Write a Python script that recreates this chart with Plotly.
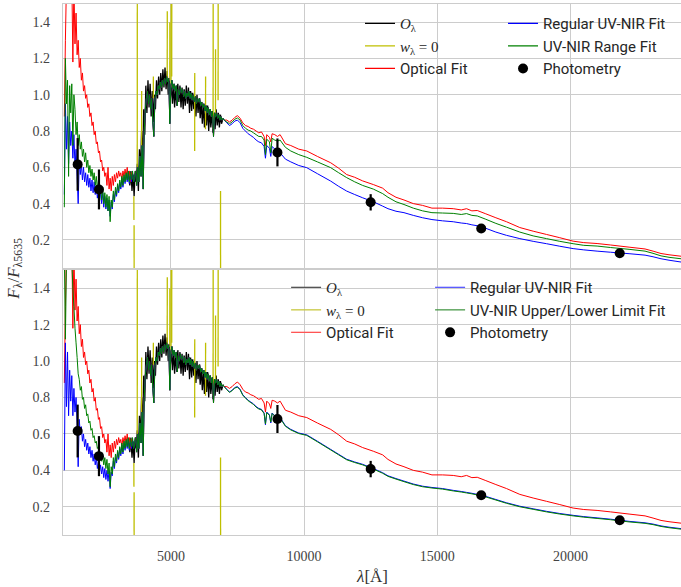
import plotly.graph_objects as go
from plotly.subplots import make_subplots

# ---------------- data ----------------
uv_wave = list(range(1000, 3601, 40))          # 66 points
opt_wave = list(range(3640, 7001, 40))         # 85 points
tail_wave = [7100, 7200, 7300, 7400, 7500, 7600, 7700, 7800, 7900, 8000, 8100,
             8200, 8300, 8400, 8500, 8550, 8600, 8700, 8750, 8800, 8900, 9000]
nir_wave = [9100, 9300, 9500, 9800, 10100, 10500, 11000, 11300, 11600, 11900,
            12200, 12600, 12950, 13150, 13450, 13750, 14100, 14450, 14800, 15200,
            15600, 15900, 16100, 16300, 16500, 16800, 17200, 17600, 18100, 18600,
            19100, 19600, 20100, 20500, 21000, 21500, 22200, 22800, 23100, 23400,
            23700, 24150]

# Optical Fit (red) -- same in both panels
red_uv = [0.88, 1.30, 1.62, 1.55, 1.70, 1.58, 1.52, 1.66, 1.18, 1.60,
          1.28, 1.45, 1.22, 1.30, 1.15, 1.20, 1.08, 1.12, 1.02, 1.05,
          0.98, 1.00, 0.93, 0.95, 0.88, 0.90, 0.83, 0.85, 0.78, 0.80,
          0.73, 0.74, 0.68, 0.69, 0.63, 0.64, 0.58, 0.60, 0.55, 0.57,
          0.50, 0.60, 0.48, 0.54, 0.47, 0.55, 0.50, 0.56, 0.52, 0.57,
          0.54, 0.58, 0.55, 0.57, 0.53, 0.58, 0.55, 0.59, 0.55, 0.60,
          0.54, 0.58, 0.52, 0.57, 0.55, 0.53]
# optical part shared by all fits
fit_opt = [0.55, 0.58, 0.50, 0.60, 0.52, 0.66, 0.55, 0.72, 0.48, 0.80,
           0.92, 0.98, 1.02, 0.95, 1.00, 0.92, 0.98, 0.85, 0.77, 0.97,
           1.02, 1.00, 1.05, 1.03, 1.07, 1.04, 1.08, 1.05, 1.09, 1.06,
           1.10, 1.07, 1.09, 0.84, 1.05, 1.08, 1.03, 1.06, 1.02, 1.05,
           0.94, 1.03, 1.00, 1.04, 1.01, 1.03, 0.99, 1.02, 0.98, 1.01,
           0.99, 1.02, 0.98, 1.01, 0.97, 1.00, 0.96, 0.99, 0.95, 0.98,
           0.96, 0.98, 0.94, 0.96, 0.93, 0.95, 0.91, 0.94, 0.90, 0.93,
           0.89, 0.92, 0.88, 0.91, 0.77, 0.90, 0.88, 0.90, 0.87, 0.89,
           0.86, 0.88, 0.86, 0.87, 0.86]
red_tail = [0.86, 0.85, 0.86, 0.875, 0.885, 0.87, 0.845, 0.83, 0.825, 0.815, 0.81,
            0.80, 0.79, 0.795, 0.77, 0.72, 0.78, 0.765, 0.74, 0.785, 0.78, 0.77]
red_nir = [0.78, 0.73, 0.72, 0.70, 0.69, 0.66, 0.625, 0.595, 0.56, 0.545,
           0.525, 0.505, 0.485, 0.46, 0.435, 0.42, 0.40, 0.39, 0.375, 0.375,
           0.372, 0.365, 0.372, 0.360, 0.362, 0.345, 0.322, 0.300, 0.268, 0.248,
           0.230, 0.212, 0.193, 0.185, 0.180, 0.172, 0.160, 0.150, 0.138, 0.125,
           0.118, 0.110]

# Top panel: Regular UV-NIR fit (blue) and UV-NIR range fit (green)
blue_top_uv = [0.45, 0.95, 0.70, 0.88, 0.62, 0.85, 0.72, 0.80, 0.65, 0.78,
               0.60, 0.70, 0.55, 0.40, 0.64, 0.56, 0.62, 0.53, 0.60, 0.52,
               0.57, 0.50, 0.56, 0.49, 0.54, 0.47, 0.53, 0.46, 0.52, 0.45,
               0.50, 0.43, 0.49, 0.41, 0.47, 0.40, 0.46, 0.38, 0.44, 0.37,
               0.43, 0.36, 0.42, 0.33, 0.41, 0.37, 0.45, 0.41, 0.47, 0.44,
               0.50, 0.46, 0.52, 0.48, 0.54, 0.49, 0.55, 0.51, 0.56, 0.52,
               0.57, 0.51, 0.56, 0.52, 0.57, 0.52]
blue_top_tail = [0.845, 0.83, 0.84, 0.855, 0.86, 0.845, 0.815, 0.80, 0.785, 0.775, 0.765,
                 0.75, 0.74, 0.735, 0.715, 0.65, 0.72, 0.705, 0.66, 0.715, 0.70, 0.69]
blue_top_nir = [0.68, 0.645, 0.63, 0.61, 0.598, 0.565, 0.524, 0.495, 0.469, 0.45,
                0.432, 0.41, 0.386, 0.372, 0.358, 0.350, 0.335, 0.322, 0.312, 0.305,
                0.300, 0.293, 0.290, 0.283, 0.278, 0.265, 0.243, 0.225, 0.207, 0.192,
                0.179, 0.165, 0.152, 0.145, 0.138, 0.132, 0.124, 0.116, 0.107, 0.096,
                0.088, 0.078]
green_top_uv = [0.38, 1.20, 0.95, 1.08, 0.55, 1.05, 0.90, 1.06, 0.72, 1.00,
                0.92, 0.78, 0.85, 0.72, 0.78, 0.70, 0.74, 0.66, 0.70, 0.63,
                0.68, 0.60, 0.64, 0.57, 0.61, 0.55, 0.59, 0.53, 0.57, 0.50,
                0.55, 0.48, 0.53, 0.46, 0.50, 0.42, 0.49, 0.40, 0.46, 0.38,
                0.45, 0.36, 0.44, 0.30, 0.42, 0.38, 0.47, 0.42, 0.49, 0.45,
                0.51, 0.47, 0.53, 0.49, 0.55, 0.50, 0.56, 0.52, 0.57, 0.53,
                0.58, 0.52, 0.57, 0.53, 0.58, 0.52]
green_top_tail = [0.85, 0.84, 0.85, 0.865, 0.872, 0.86, 0.83, 0.815, 0.805, 0.80, 0.79,
                  0.78, 0.77, 0.77, 0.75, 0.67, 0.755, 0.74, 0.68, 0.76, 0.75, 0.745]
green_top_nir = [0.75, 0.71, 0.69, 0.67, 0.655, 0.63, 0.598, 0.57, 0.543, 0.52,
                 0.50, 0.48, 0.455, 0.435, 0.41, 0.395, 0.375, 0.36, 0.350, 0.348,
                 0.346, 0.340, 0.345, 0.335, 0.332, 0.315, 0.291, 0.270, 0.243, 0.222,
                 0.207, 0.192, 0.179, 0.170, 0.166, 0.158, 0.148, 0.138, 0.126, 0.112,
                 0.104, 0.096]

# Bottom panel: Regular UV-NIR fit (blue) and upper/lower limit fit (green)
blue_bot_uv = [0.40, 1.10, 0.75, 1.05, 0.70, 0.95, 0.78, 0.92, 0.70, 0.85,
               0.72, 0.80, 0.66, 0.42, 0.68, 0.60, 0.64, 0.56, 0.60, 0.53,
               0.57, 0.51, 0.55, 0.49, 0.53, 0.47, 0.51, 0.45, 0.49, 0.43,
               0.47, 0.41, 0.45, 0.39, 0.43, 0.38, 0.42, 0.36, 0.41, 0.35,
               0.40, 0.34, 0.40, 0.30, 0.39, 0.37, 0.45, 0.41, 0.47, 0.44,
               0.50, 0.46, 0.52, 0.48, 0.54, 0.49, 0.55, 0.51, 0.56, 0.52,
               0.57, 0.51, 0.56, 0.52, 0.57, 0.52]
blue_bot_tail = [0.845, 0.83, 0.84, 0.855, 0.86, 0.845, 0.815, 0.80, 0.785, 0.775, 0.765,
                 0.75, 0.74, 0.735, 0.715, 0.65, 0.72, 0.705, 0.66, 0.715, 0.70, 0.69]
blue_bot_nir = [0.69, 0.645, 0.625, 0.605, 0.595, 0.56, 0.515, 0.488, 0.461, 0.446,
                0.433, 0.41, 0.387, 0.37, 0.355, 0.341, 0.325, 0.313, 0.306, 0.300,
                0.290, 0.284, 0.279, 0.274, 0.268, 0.258, 0.240, 0.222, 0.203, 0.189,
                0.175, 0.163, 0.153, 0.146, 0.139, 0.132, 0.120, 0.112, 0.105, 0.095,
                0.088, 0.080]
green_bot_uv = [1.60, 1.12, 1.55, 1.65, 1.52, 1.60, 1.50, 1.56, 1.40, 1.30,
                1.18, 1.10, 1.02, 0.93, 0.90, 0.84, 0.86, 0.79, 0.80, 0.74,
                0.76, 0.70, 0.71, 0.66, 0.67, 0.62, 0.63, 0.58, 0.59, 0.55,
                0.56, 0.52, 0.53, 0.48, 0.50, 0.45, 0.48, 0.43, 0.47, 0.41,
                0.46, 0.38, 0.44, 0.31, 0.42, 0.38, 0.47, 0.42, 0.49, 0.45,
                0.51, 0.47, 0.53, 0.49, 0.55, 0.50, 0.56, 0.52, 0.57, 0.53,
                0.58, 0.52, 0.57, 0.53, 0.58, 0.52]
green_bot_tail = [0.843, 0.828, 0.838, 0.852, 0.857, 0.842, 0.812, 0.797, 0.782, 0.772, 0.762,
                  0.747, 0.737, 0.732, 0.712, 0.655, 0.717, 0.702, 0.665, 0.712, 0.697, 0.687]
green_bot_nir = [0.687, 0.642, 0.622, 0.602, 0.592, 0.557, 0.512, 0.485, 0.458, 0.443,
                 0.430, 0.407, 0.384, 0.367, 0.352, 0.338, 0.322, 0.310, 0.303, 0.297,
                 0.287, 0.281, 0.276, 0.271, 0.265, 0.255, 0.237, 0.219, 0.200, 0.186,
                 0.172, 0.160, 0.150, 0.143, 0.136, 0.129, 0.117, 0.109, 0.102, 0.092,
                 0.085, 0.077]

# Observed spectrum O_lambda
obs_wave = list(range(3420, 6941, 40))   # 89 points
obs_flux = [0.55, 0.50, 0.58, 0.47, 0.56, 0.44, 0.58, 0.52, 0.62, 0.47,
            0.70, 0.58, 0.80, 0.62, 0.92, 0.78, 1.05, 0.90, 1.08, 0.93,
            1.06, 0.88, 1.02, 0.85, 1.00, 0.92, 1.08, 0.98, 1.10, 1.00,
            1.12, 1.02, 1.14, 1.04, 1.15, 1.03, 1.13, 1.00, 1.08, 0.98,
            1.06, 0.95, 1.05, 0.93, 1.04, 0.94, 1.06, 0.96, 1.05, 0.93,
            1.04, 0.92, 1.03, 0.94, 1.05, 0.95, 1.04, 0.90, 1.02, 0.91,
            1.01, 0.92, 0.99, 0.88, 1.00, 0.90, 0.98, 0.87, 0.96, 0.84,
            0.95, 0.82, 0.93, 0.83, 0.94, 0.80, 0.92, 0.82, 0.91, 0.79,
            0.90, 0.81, 0.92, 0.83, 0.90, 0.82, 0.89, 0.84, 0.86]

# Masked pixels (w_lambda = 0)
mask_wave = [3610, 3613, None, 3618, 3621, None, 3737, 3740, None, 3900, 3903, None,
             4340, 4343, None, 4862, 4865, None, 4959, 4962, None, 5007, 5010, None,
             5031, 5034, None, 5893, 5896, None, 6300, 6303, None, 6585, 6588, None,
             6674, 6677, None, 6773, 6776, None, 6863, 6866]
mask_flux = [0.44, 0.31, None, 0.28, 0.0, None, 0.60, 1.6, None, 0.60, 1.02, None,
             0.98, 1.10, None, 1.08, 1.46, None, 1.08, 1.40, None, 1.04, 1.6, None,
             1.10, 1.6, None, 0.69, 1.12, None, 0.81, 1.10, None, 0.81, 1.6, None,
             0.90, 1.25, None, 0.97, 1.6, None, 0.47, 0.0]

# Photometry
phot_wave = [1500, 2300, 9000, 12500, 16650, 21850]
phot_flux = [0.616, 0.478, 0.682, 0.407, 0.263, 0.126]
phot_err = [0.145, 0.11, 0.077, 0.045, 0.015, 0.01]

xticks = [5000, 10000, 15000, 20000]
yticks = [0.2, 0.4, 0.6, 0.8, 1.0, 1.2, 1.4]

fit_wave = uv_wave + opt_wave + tail_wave + nir_wave
red_fit = red_uv + fit_opt + red_tail + red_nir
blue_top = blue_top_uv + fit_opt + blue_top_tail + blue_top_nir
green_top = green_top_uv + fit_opt + green_top_tail + green_top_nir
blue_bot = blue_bot_uv + fit_opt + blue_bot_tail + blue_bot_nir
green_bot = green_bot_uv + fit_opt + green_bot_tail + green_bot_nir

# ---------------- figure ----------------
BLACK, YEL, RED, BLUE, GREEN = "#000000", "#bfbf00", "#ff0000", "#0000ff", "#008000"
SERIF = "Liberation Serif"
SANS = "Roboto"

fig = make_subplots(rows=2, cols=1, shared_xaxes=True, vertical_spacing=0.01)


def add_panel(row, blue, green):
    fig.add_trace(go.Scatter(x=obs_wave, y=obs_flux, mode="lines", showlegend=False,
                             line=dict(color=BLACK, width=1.3, simplify=False)), row=row, col=1)
    fig.add_trace(go.Scatter(x=mask_wave, y=mask_flux, mode="lines", showlegend=False,
                             connectgaps=False,
                             line=dict(color=YEL, width=1.3, simplify=False)), row=row, col=1)
    fig.add_trace(go.Scatter(x=fit_wave, y=red_fit, mode="lines", showlegend=False,
                             line=dict(color=RED, width=1, simplify=False)), row=row, col=1)
    fig.add_trace(go.Scatter(x=fit_wave, y=blue, mode="lines", showlegend=False,
                             line=dict(color=BLUE, width=1, simplify=False)), row=row, col=1)
    fig.add_trace(go.Scatter(x=fit_wave, y=green, mode="lines", showlegend=False,
                             line=dict(color=GREEN, width=1, simplify=False)), row=row, col=1)
    fig.add_trace(go.Scatter(x=phot_wave, y=phot_flux, mode="markers", showlegend=False,
                             marker=dict(color=BLACK, size=10),
                             error_y=dict(type="data", array=phot_err, color=BLACK,
                                          thickness=2.2, width=0)), row=row, col=1)


add_panel(1, blue_top, green_top)
add_panel(2, blue_bot, green_bot)


def leg_line(name, color, legend):
    fig.add_trace(go.Scatter(x=[None], y=[None], mode="lines", name=name,
                             line=dict(color=color, width=1.3), legend=legend))


def leg_marker(name, legend):
    fig.add_trace(go.Scatter(x=[None], y=[None], mode="markers", name=name,
                             marker=dict(color=BLACK, size=10), legend=legend))


O_TXT = f'<span style="font-family:{SERIF}"><i>O</i><sub>λ</sub></span>'
W_TXT = f'<span style="font-family:{SERIF}"><i>w</i><sub>λ</sub> = 0</span>'

leg_line(O_TXT, BLACK, "legend")
leg_line(W_TXT, YEL, "legend")
leg_line("Optical Fit", RED, "legend")
leg_line("Regular UV-NIR Fit", BLUE, "legend2")
leg_line("UV-NIR Range Fit", GREEN, "legend2")
leg_marker("Photometry", "legend2")

leg_line(O_TXT, "#555555", "legend3")
leg_line(W_TXT, "#c8c840", "legend3")
leg_line("Optical Fit", "#ff5555", "legend3")
leg_line("Regular UV-NIR Fit", "#5c5cff", "legend4")
leg_line("UV-NIR Upper/Lower Limit Fit", "#4a9a4a", "legend4")
leg_marker("Photometry", "legend4")

leg_common = dict(bgcolor="rgba(0,0,0,0)", borderwidth=0, xanchor="left", yanchor="top",
                  font=dict(family=SANS, size=15, color="#262626"), orientation="v",
                  xref="paper", yref="paper")
fig.update_layout(
    legend=dict(x=0.4806, y=0.994, **leg_common),
    legend2=dict(x=0.712, y=0.994, **leg_common),
    legend3=dict(x=0.361, y=0.497, **leg_common),
    legend4=dict(x=0.594, y=0.497, **leg_common),
)

axis_common = dict(showgrid=True, gridcolor="#cccccc", gridwidth=1, showline=True,
                   linecolor="#cccccc", linewidth=1.2, mirror=True, zeroline=False,
                   ticks="")
fig.update_xaxes(range=[950, 24150], tickvals=xticks, tickformat="d", **axis_common)
fig.update_xaxes(showticklabels=False, row=1, col=1)
fig.update_xaxes(showticklabels=True, ticklabelstandoff=8,
                 tickfont=dict(family=SERIF, size=14, color="#444444"), row=2, col=1)
fig.update_yaxes(range=[0.045, 1.5], tickvals=yticks, tickformat=".1f",
                 ticklabelstandoff=9, tickfont=dict(family=SERIF, size=14, color="#444444"),
                 **axis_common)
fig.update_layout(
    yaxis=dict(domain=[0.5028, 1.0]),
    yaxis2=dict(domain=[0.0, 0.499]),
)

fig.add_annotation(text="<i>F</i><sub>λ</sub>/<i>F</i><sub>λ5635</sub>", xref="paper", yref="paper",
                   x=-0.078, y=0.501, textangle=-90, showarrow=False, xanchor="center",
                   yanchor="middle", font=dict(family=SERIF, size=17, color="#333333"))
fig.add_annotation(text="<i>λ</i>[Å]", xref="paper", yref="paper", x=0.5, y=-0.079,
                   showarrow=False, xanchor="center", yanchor="middle",
                   font=dict(family=SERIF, size=17, color="#333333"))

fig.update_layout(width=681, height=587, margin=dict(l=63, r=0, t=4, b=52),
                  plot_bgcolor="white", paper_bgcolor="white")

fig.write_html("out.html")
